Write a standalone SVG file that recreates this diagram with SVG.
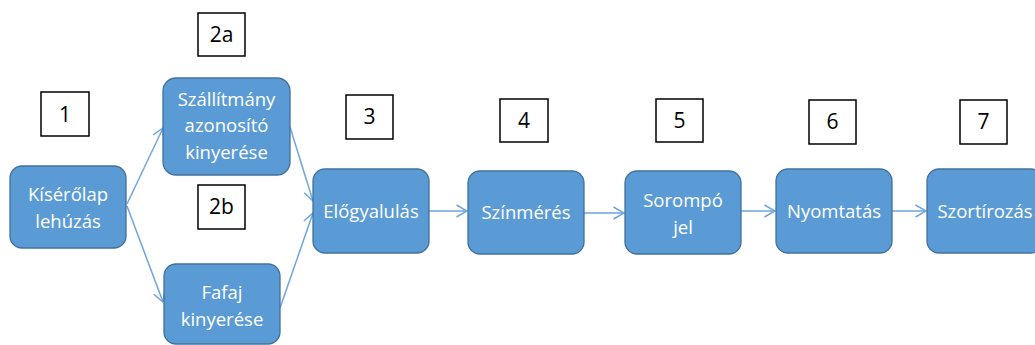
<svg xmlns="http://www.w3.org/2000/svg" width="1035" height="345" viewBox="0 0 1035 345">
  <style>
    .node rect { fill: #5B9BD5; stroke: #41719C; stroke-width: 1.3; }
    .node text { fill: #FFFFFF; font-family: "Open Sans", "Noto Sans", sans-serif; font-size: 18.5px; text-anchor: middle; }
    .num rect { fill: #FFFFFF; stroke: #000000; stroke-width: 1.5; }
    .num text { fill: #000000; font-family: "Open Sans", "Noto Sans", sans-serif; font-size: 21px; text-anchor: middle; }
    .edge { fill: none; stroke: #6FA6DC; stroke-width: 1.5; marker-end: url(#chev); }
  </style>
  <defs>
    <marker id="chev" viewBox="0 0 12 14" refX="11.5" refY="7" markerWidth="12" markerHeight="14" markerUnits="userSpaceOnUse" orient="auto">
      <path d="M1,1 L11.5,7 L1,13" fill="none" stroke="#6FA6DC" stroke-width="1.5"/>
    </marker>
  </defs>
  <rect width="1035" height="345" fill="#FFFFFF"/>

  <!-- step numbers -->
  <g id="n1" class="num"><rect x="41" y="92" width="48" height="44"/><text x="65" y="122">1</text></g>
  <g id="n2a" class="num"><rect x="198" y="13" width="47" height="43"/><text x="221.5" y="42">2a</text></g>
  <g id="n2b" class="num"><rect x="198" y="185" width="47" height="44"/><text x="221.5" y="214">2b</text></g>
  <g id="n3" class="num"><rect x="346" y="95" width="47" height="44"/><text x="369.5" y="124">3</text></g>
  <g id="n4" class="num"><rect x="500" y="99" width="48" height="43"/><text x="524" y="128">4</text></g>
  <g id="n5" class="num"><rect x="656" y="99" width="47" height="43"/><text x="679.5" y="128">5</text></g>
  <g id="n6" class="num"><rect x="809" y="100" width="47" height="44"/><text x="832.5" y="129">6</text></g>
  <g id="n7" class="num"><rect x="960" y="100" width="47" height="44"/><text x="983.5" y="129">7</text></g>

  <!-- connectors -->
  <g id="connectors">
    <line class="edge" x1="127" y1="204" x2="163" y2="128"/>
    <line class="edge" x1="127" y1="206" x2="163" y2="302"/>
    <line class="edge" x1="290" y1="127" x2="313" y2="201"/>
    <line class="edge" x1="280" y1="308" x2="313" y2="213"/>
    <line class="edge" x1="429" y1="211" x2="467" y2="211"/>
    <line class="edge" x1="584" y1="213" x2="624" y2="213"/>
    <line class="edge" x1="741" y1="211" x2="775" y2="211"/>
    <line class="edge" x1="892" y1="211" x2="926" y2="211"/>
  </g>

  <!-- process steps -->
  <g id="kiserolap" class="node">
    <rect x="10" y="166" width="116" height="82" rx="12"/>
    <text x="68" y="201">Kísérőlap</text>
    <text x="68" y="228">lehúzás</text>
  </g>
  <g id="szallitmany" class="node">
    <rect x="163" y="78" width="127" height="97" rx="13"/>
    <text x="226.5" y="106">Szállítmány</text>
    <text x="226.5" y="132">azonosító</text>
    <text x="226.5" y="159">kinyerése</text>
  </g>
  <g id="fafaj" class="node">
    <rect x="164" y="264" width="116" height="80" rx="12"/>
    <text x="222" y="299">Fafaj</text>
    <text x="222" y="326">kinyerése</text>
  </g>
  <g id="elogyalulas" class="node">
    <rect x="313" y="169" width="116" height="84" rx="12"/>
    <text x="371" y="218">Előgyalulás</text>
  </g>
  <g id="szinmeres" class="node">
    <rect x="468" y="171" width="116" height="83" rx="12"/>
    <text x="526" y="219">Színmérés</text>
  </g>
  <g id="sorompo" class="node">
    <rect x="625" y="171" width="116" height="83" rx="12"/>
    <text x="683" y="207">Sorompó</text>
    <text x="683" y="234">jel</text>
  </g>
  <g id="nyomtatas" class="node">
    <rect x="776" y="169" width="116" height="84" rx="12"/>
    <text x="834" y="218">Nyomtatás</text>
  </g>
  <g id="szortirozas" class="node">
    <rect x="927" y="169" width="116" height="84" rx="12"/>
    <text x="985" y="218">Szortírozás</text>
  </g>
</svg>
